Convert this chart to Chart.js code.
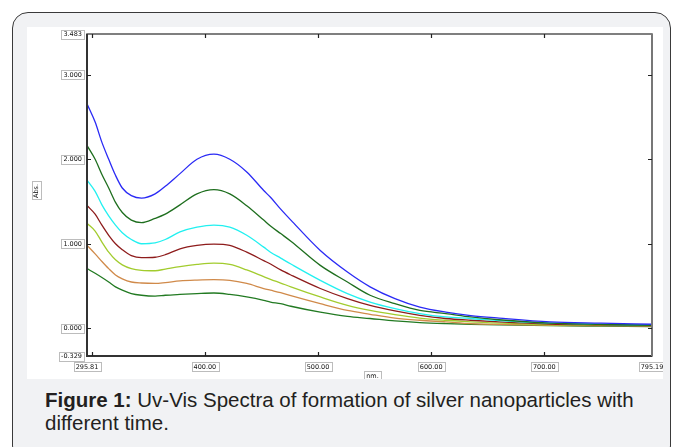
<!DOCTYPE html>
<html>
<head>
<meta charset="utf-8">
<script src="https://cdn.jsdelivr.net/npm/chart.js@4.4.0/dist/chart.umd.min.js"></script>
<style>
  body { margin: 0; background: #fff; width: 673px; height: 447px; overflow: hidden; position: relative; font-family: "Liberation Sans", Arial, sans-serif; }
  #frame { position: absolute; left: 12px; top: 12px; width: 659px; height: 450px; border: 1.5px solid #3a3a3a; border-radius: 16px; background: #f1f2f4; box-sizing: border-box; }
  #panel { position: absolute; left: 27px; top: 27px; width: 636px; height: 352px; background: #fff; }
  #caption { position: absolute; left: 45px; top: 388px; width: 615px; font-size: 20.5px; line-height: 23px; color: #231f20; }
</style>
</head>
<body>
<div id="frame"></div>
<div id="panel"><canvas id="spectra" width="636" height="352"></canvas></div>
<div id="caption"><b>Figure 1:</b> Uv-Vis Spectra of formation of silver nanoparticles with different time.</div>
<script>
// wavelength (nm) and absorbance for each curve, top to bottom
const wavelengths = [296, 303, 309, 315, 321, 327, 335, 344, 356, 365, 378, 393, 408, 422, 437, 452, 458, 467, 476, 502, 526, 546, 568, 590, 613, 635, 660, 705, 750, 795];

const absBlue   = [2.65, 2.44, 2.20, 2.00, 1.81, 1.66, 1.57, 1.54, 1.59, 1.68, 1.83, 2.00, 2.06, 2.00, 1.85, 1.63, 1.55, 1.41, 1.28, 0.92, 0.665, 0.49, 0.35, 0.25, 0.19, 0.15, 0.12, 0.075, 0.06, 0.047];
const absGreen  = [2.16, 2.00, 1.82, 1.66, 1.49, 1.37, 1.28, 1.25, 1.30, 1.35, 1.46, 1.59, 1.64, 1.59, 1.45, 1.28, 1.21, 1.12, 1.03, 0.744, 0.547, 0.39, 0.29, 0.21, 0.173, 0.133, 0.10, 0.06, 0.045, 0.035];
const absCyan   = [1.75, 1.62, 1.46, 1.33, 1.22, 1.13, 1.05, 1.00, 1.01, 1.05, 1.14, 1.196, 1.22, 1.196, 1.10, 0.96, 0.90, 0.83, 0.76, 0.567, 0.41, 0.31, 0.232, 0.173, 0.133, 0.115, 0.09, 0.06, 0.045, 0.035];
const absRed    = [1.45, 1.35, 1.22, 1.10, 1.00, 0.93, 0.86, 0.835, 0.84, 0.87, 0.94, 0.98, 0.995, 0.98, 0.90, 0.80, 0.76, 0.69, 0.63, 0.47, 0.35, 0.27, 0.205, 0.153, 0.115, 0.094, 0.075, 0.05, 0.04, 0.03];
const absLime   = [1.24, 1.15, 1.02, 0.90, 0.81, 0.75, 0.705, 0.685, 0.68, 0.70, 0.73, 0.755, 0.77, 0.755, 0.69, 0.61, 0.578, 0.535, 0.49, 0.37, 0.27, 0.21, 0.16, 0.12, 0.094, 0.075, 0.06, 0.04, 0.035, 0.03];
const absOrange = [0.98, 0.88, 0.79, 0.705, 0.63, 0.585, 0.547, 0.535, 0.53, 0.54, 0.56, 0.57, 0.575, 0.567, 0.53, 0.47, 0.45, 0.42, 0.385, 0.29, 0.21, 0.165, 0.12, 0.094, 0.075, 0.055, 0.045, 0.035, 0.03, 0.025];
const absGreen2 = [0.705, 0.65, 0.60, 0.547, 0.49, 0.45, 0.41, 0.39, 0.38, 0.39, 0.40, 0.41, 0.417, 0.40, 0.37, 0.33, 0.31, 0.29, 0.26, 0.19, 0.14, 0.115, 0.086, 0.067, 0.055, 0.047, 0.04, 0.03, 0.025, 0.02];

// axis range and ticks
const xMin = 295.81, xMax = 795.19;
const yMin = -0.329, yMax = 3.483;
const xTicks = [300, 400, 500, 600, 700];
const xLabelValues = [295.81, 400, 500, 600, 700, 795.19];
const xLabels = ['295.81', '400.00', '500.00', '600.00', '700.00', '795.19'];
const yTicks = [0, 1, 2, 3];
const yLabelValues = [-0.329, 0, 1, 2, 3, 3.483];
const yLabels = ['-0.329', '0.000', '1.000', '2.000', '3.000', '3.483'];

const series = [
  { data: absBlue,   color: '#2a2af5' },
  { data: absGreen,  color: '#1e6e1e' },
  { data: absCyan,   color: '#22f0f0' },
  { data: absRed,    color: '#8e1c1c' },
  { data: absLime,   color: '#a2cc2e' },
  { data: absOrange, color: '#d08a4a' },
  { data: absGreen2, color: '#227a22' }
];

function boxLabel(ctx, text, cx, cy, align) {
  ctx.font = '6.5px "DejaVu Sans"';
  const w = ctx.measureText(text).width + 4;
  const h = 9;
  let left = cx - w / 2;
  if (align === 'right') left = cx - w;
  ctx.fillStyle = '#fff';
  ctx.fillRect(left, cy - h / 2, w, h);
  ctx.strokeStyle = '#bcbcbc';
  ctx.lineWidth = 1;
  ctx.strokeRect(Math.round(left) + 0.5, Math.round(cy - h / 2) + 0.5, Math.round(w), h);
  ctx.fillStyle = '#111';
  ctx.textAlign = 'left';
  ctx.textBaseline = 'middle';
  ctx.fillText(text, left + 2, cy + 0.5);
}

const framePlugin = {
  id: 'spectroFrame',
  afterDraw(chart) {
    const { ctx, chartArea: a } = chart;
    const xs = chart.scales.x, ys = chart.scales.y;
    ctx.save();
    // frame
    ctx.strokeStyle = '#555';
    ctx.lineWidth = 1.5;
    ctx.strokeRect(a.left, a.top, a.right - a.left, a.bottom - a.top);
    ctx.strokeStyle = '#333';
    ctx.lineWidth = 2;
    ctx.beginPath();
    ctx.moveTo(a.left, a.top); ctx.lineTo(a.left, a.bottom); ctx.lineTo(a.right, a.bottom);
    ctx.stroke();
    ctx.strokeStyle = '#777';
    ctx.beginPath();
    ctx.moveTo(a.right, a.top); ctx.lineTo(a.right, a.bottom);
    ctx.stroke();
    // inward ticks
    ctx.strokeStyle = '#222';
    ctx.lineWidth = 1.2;
    ctx.beginPath();
    xTicks.forEach(v => {
      const px = Math.round(xs.getPixelForValue(v)) + 0.5;
      ctx.moveTo(px, a.bottom); ctx.lineTo(px, a.bottom - 4);
      ctx.moveTo(px, a.top); ctx.lineTo(px, a.top + 4);
    });
    yTicks.forEach(v => {
      const py = Math.round(ys.getPixelForValue(v)) + 0.5;
      ctx.moveTo(a.left, py); ctx.lineTo(a.left + 4, py);
      ctx.moveTo(a.right, py); ctx.lineTo(a.right - 4, py);
    });
    ctx.stroke();
    // boxed labels
    yLabelValues.forEach((v, i) => {
      boxLabel(ctx, yLabels[i], a.left - 3, ys.getPixelForValue(v), 'right');
    });
    xLabelValues.forEach((v, i) => {
      boxLabel(ctx, xLabels[i], xs.getPixelForValue(v), a.bottom + 10.5, 'center');
    });
    boxLabel(ctx, 'nm.', (a.left + a.right) / 2 + 3, a.bottom + 19.5, 'center');
    // rotated y title
    ctx.translate(9, 164);
    ctx.rotate(-Math.PI / 2);
    boxLabel(ctx, 'Abs.', 0, 0, 'center');
    ctx.restore();
  }
};

new Chart(document.getElementById('spectra'), {
  type: 'line',
  data: {
    datasets: series.map(s => ({
      data: wavelengths.map((w, i) => ({ x: w, y: s.data[i] })),
      borderColor: s.color,
      borderWidth: 1.3,
      pointRadius: 0,
      fill: false,
      cubicInterpolationMode: 'monotone'
    }))
  },
  options: {
    responsive: false,
    animation: false,
    events: [],
    layout: { padding: { left: 60, top: 7, right: 11, bottom: 23 } },
    plugins: { legend: { display: false }, tooltip: { enabled: false } },
    scales: {
      x: { type: 'linear', min: xMin, max: xMax, display: false },
      y: { type: 'linear', min: yMin, max: yMax, display: false }
    }
  },
  plugins: [framePlugin]
});
</script>
</body>
</html>
